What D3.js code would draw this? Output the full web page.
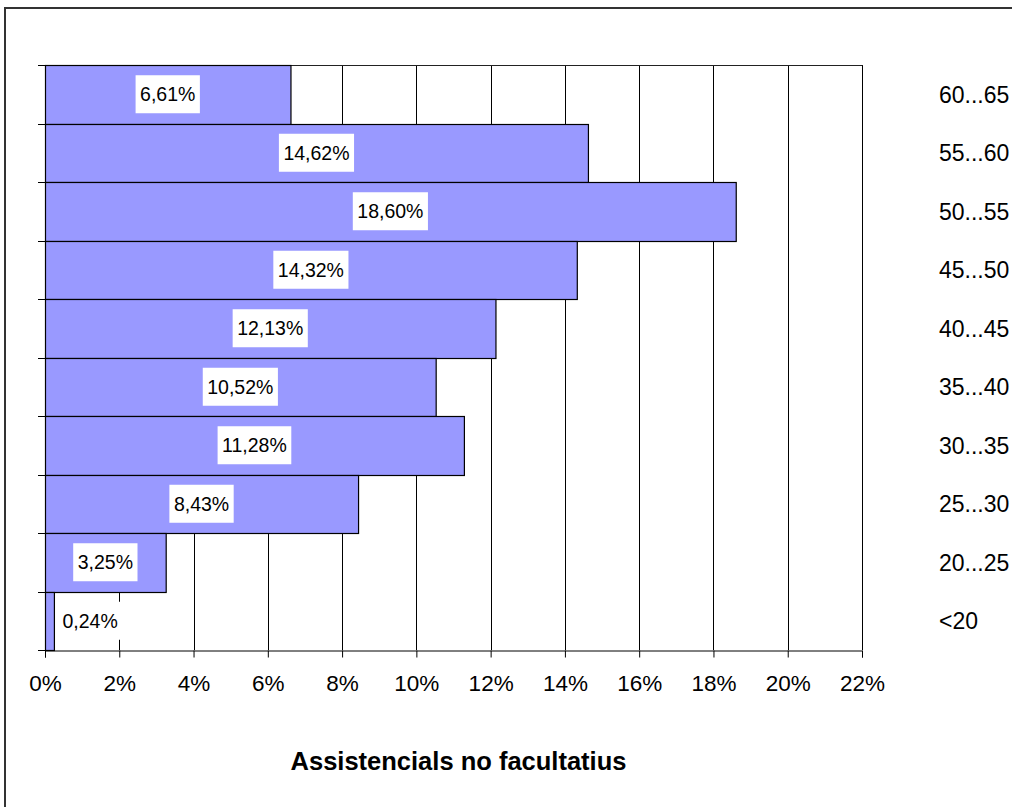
<!DOCTYPE html>
<html>
<head>
<meta charset="utf-8">
<script src="https://cdn.jsdelivr.net/npm/d3@7"></script>
<style>
  html, body { margin: 0; padding: 0; background: #fff; }
  svg { display: block; font-family: "Liberation Sans", Arial, sans-serif; }
</style>
</head>
<body>
<div id="chart"></div>
<script>
"use strict";

// age groups, top to bottom as drawn
var categories = ["60...65", "55...60", "50...55", "45...50", "40...45", "35...40", "30...35", "25...30", "20...25", "<20"];
// share of each group, in percent
var values = [6.61, 14.62, 18.60, 14.32, 12.13, 10.52, 11.28, 8.43, 3.25, 0.24];
var xTicks = [0, 2, 4, 6, 8, 10, 12, 14, 16, 18, 20, 22];
var axisTitle = "Assistencials no facultatius";

var width = 1012, height = 807;
var plot = { left: 45, right: 862, top: 65, bottom: 650 };

// catalan style numbers: comma as decimal mark
var ca = d3.formatLocale({ decimal: ",", thousands: ".", grouping: [3], currency: ["", " €"] });
var fmtLabel = function (v) { return ca.format(".2f")(v) + "%"; };

var svg = d3.select("#chart").append("svg")
    .attr("width", width)
    .attr("height", height);

svg.append("rect")
    .attr("width", width).attr("height", height)
    .attr("fill", "#fff");

// chart border (runs off the right and bottom of the picture)
svg.append("rect")
    .attr("x", 5).attr("y", 8)
    .attr("width", 1100).attr("height", 900)
    .attr("fill", "none")
    .attr("stroke", "#333")
    .attr("stroke-width", 2);

var x = d3.scaleLinear()
    .domain([0, 22])
    .range([plot.left, plot.right]);

var y = d3.scaleBand()
    .domain(categories)
    .range([plot.top, plot.bottom])
    .padding(0);

// vertical gridlines
svg.append("g")
    .selectAll("line")
    .data(xTicks.slice(1))
    .enter()
    .append("line")
    .attr("x1", function (d) { return Math.round(x(d)) + 0.5; })
    .attr("x2", function (d) { return Math.round(x(d)) + 0.5; })
    .attr("y1", plot.top)
    .attr("y2", plot.bottom)
    .attr("stroke", "#000");

// top border of the plot area
svg.append("line")
    .attr("x1", plot.left).attr("x2", Math.round(x(22)) + 0.5)
    .attr("y1", plot.top + 0.5).attr("y2", plot.top + 0.5)
    .attr("stroke", "#222");

// bars
svg.append("g")
    .selectAll("rect")
    .data(values)
    .enter()
    .append("rect")
    .attr("x", x(0) + 0.5)
    .attr("y", function (d, i) { return Math.round(y(categories[i])) + 0.5; })
    .attr("width", function (d) { return x(d) - x(0); })
    .attr("height", function (d, i) {
        return Math.round(y(categories[i]) + y.bandwidth()) - Math.round(y(categories[i]));
    })
    .attr("fill", "#9999FF")
    .attr("stroke", "#000")
    .attr("stroke-width", 1.2);

// x axis
var xAxis = svg.append("g")
    .attr("transform", "translate(0," + (plot.bottom + 0.5) + ")")
    .call(d3.axisBottom(x)
        .tickValues(xTicks)
        .tickSize(7)
        .tickPadding(18)
        .tickFormat(function (d) { return d + "%"; }));
xAxis.select(".domain").attr("stroke", "#000");
xAxis.selectAll(".tick line").attr("stroke", "#000");
xAxis.selectAll("text")
    .attr("font-family", "Liberation Sans, Arial, sans-serif")
    .attr("font-size", 22.5)
    .attr("fill", "#000");

// y axis line with tick marks on the band edges
var yEdges = categories.map(function (c) { return y(c); }).concat([plot.bottom]);
var yAxis = svg.append("g");
yAxis.append("line")
    .attr("x1", plot.left + 0.5).attr("x2", plot.left + 0.5)
    .attr("y1", plot.top).attr("y2", plot.bottom + 7)
    .attr("stroke", "#000");
yAxis.selectAll(".ytick")
    .data(yEdges)
    .enter()
    .append("line")
    .attr("class", "ytick")
    .attr("x1", plot.left - 7).attr("x2", plot.left)
    .attr("y1", function (d) { return Math.round(d) + 0.5; })
    .attr("y2", function (d) { return Math.round(d) + 0.5; })
    .attr("stroke", "#000");

// category labels on the right
svg.append("g")
    .selectAll("text")
    .data(categories)
    .enter()
    .append("text")
    .attr("x", 939)
    .attr("y", function (d) { return y(d) + y.bandwidth() / 2; })
    .attr("dy", "0.36em")
    .attr("font-size", 23)
    .attr("fill", "#000")
    .text(function (d) { return d; });

// data labels, white boxes centred on the bars
var labels = svg.append("g")
    .selectAll("g")
    .data(values)
    .enter()
    .append("g");

labels.append("text")
    .attr("font-size", 19.5)
    .attr("fill", "#000")
    .attr("text-anchor", "middle")
    .attr("dy", "0.36em")
    .text(fmtLabel);

labels.each(function (d, i) {
    var g = d3.select(this);
    var t = g.select("text");
    var w = t.node().getComputedTextLength() + 9;
    var cx = (x(0) + x(d)) / 2;
    if (cx - w / 2 < x(0) + 13) cx = x(0) + 13 + w / 2; // keep box off the axis
    var cy = y(categories[i]) + y.bandwidth() / 2;
    t.attr("x", cx).attr("y", cy);
    g.insert("rect", "text")
        .attr("x", cx - w / 2)
        .attr("y", cy - 19)
        .attr("width", w)
        .attr("height", 38)
        .attr("fill", "#fff");
});

// axis title
svg.append("text")
    .attr("x", 458.5)
    .attr("y", 770)
    .attr("text-anchor", "middle")
    .attr("font-size", 25.5)
    .attr("font-weight", "bold")
    .attr("fill", "#000")
    .text(axisTitle);
</script>
</body>
</html>
